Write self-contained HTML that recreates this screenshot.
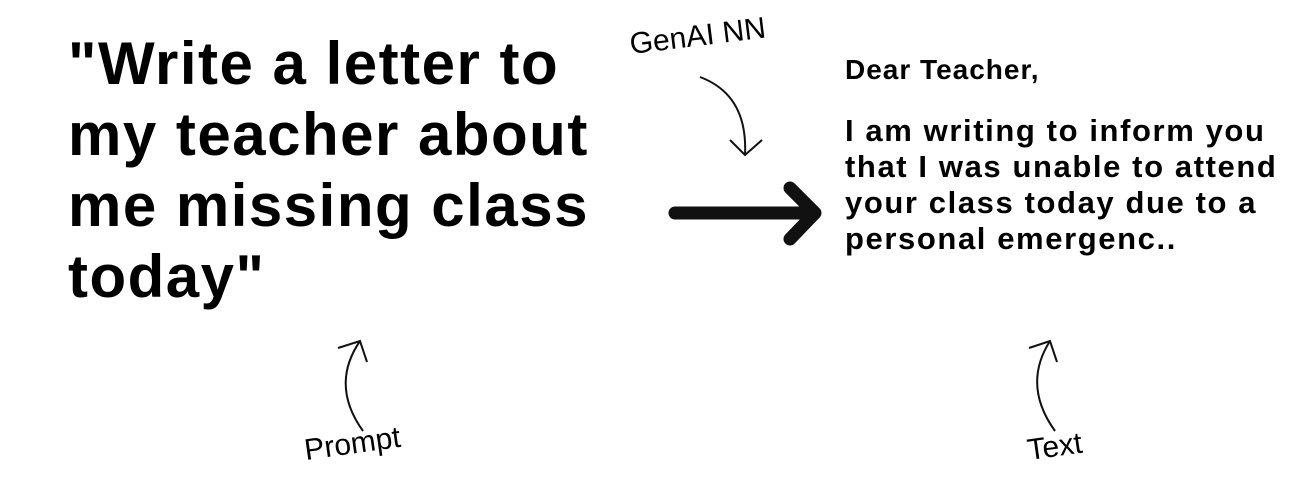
<!DOCTYPE html>
<html><head><style>
html,body{margin:0;padding:0;background:#fff;width:1316px;height:493px;overflow:hidden;position:relative;font-family:"Liberation Sans",sans-serif;color:#000}
.big{position:absolute;left:68px;top:28px;font-weight:bold;font-size:60px;line-height:71px;letter-spacing:1.5px}
.r{position:absolute;left:845px;font-weight:bold;font-size:31px;line-height:36px;letter-spacing:1.6px}
.lab{position:absolute;font-size:30px;transform-origin:left bottom}
</style></head><body>
<div class="big">"Write a letter to<br>my teacher about<br>me missing class<br>today"</div>
<div class="r" style="top:52px;font-size:28px;letter-spacing:1px">Dear Teacher,</div>
<div class="r" style="top:113px">I am writing to inform you<br>that I was unable to attend<br>your class today due to a<br>personal emergenc..</div>
<div class="lab" style="left:632px;top:28px;transform:rotate(-7deg)">GenAI NN</div>
<div class="lab" style="left:307px;top:434px;transform:rotate(-8deg)">Prompt</div>
<div class="lab" style="left:1030px;top:434px;transform:rotate(-8deg)">Text</div>
<svg width="1316" height="493" style="position:absolute;left:0;top:0" fill="none" stroke="#111">
<path d="M700 77 Q748 95 745 155" stroke-width="2"/>
<path d="M730 140 L745 155 L762 140" stroke-width="2"/>
<path d="M675 213 L812 213" stroke-width="13" stroke-linecap="round"/>
<path d="M790 188 L815 213 L790 239" stroke-width="13" stroke-linecap="round" stroke-linejoin="round"/>
<path d="M363 431 Q330 385 360 341" stroke-width="2"/>
<path d="M338 348 L360 341 L367 362" stroke-width="2"/>
<path d="M1055 431 Q1022 385 1050 341" stroke-width="2"/>
<path d="M1029 348 L1050 341 L1057 362" stroke-width="2"/>
</svg>
</body></html>
